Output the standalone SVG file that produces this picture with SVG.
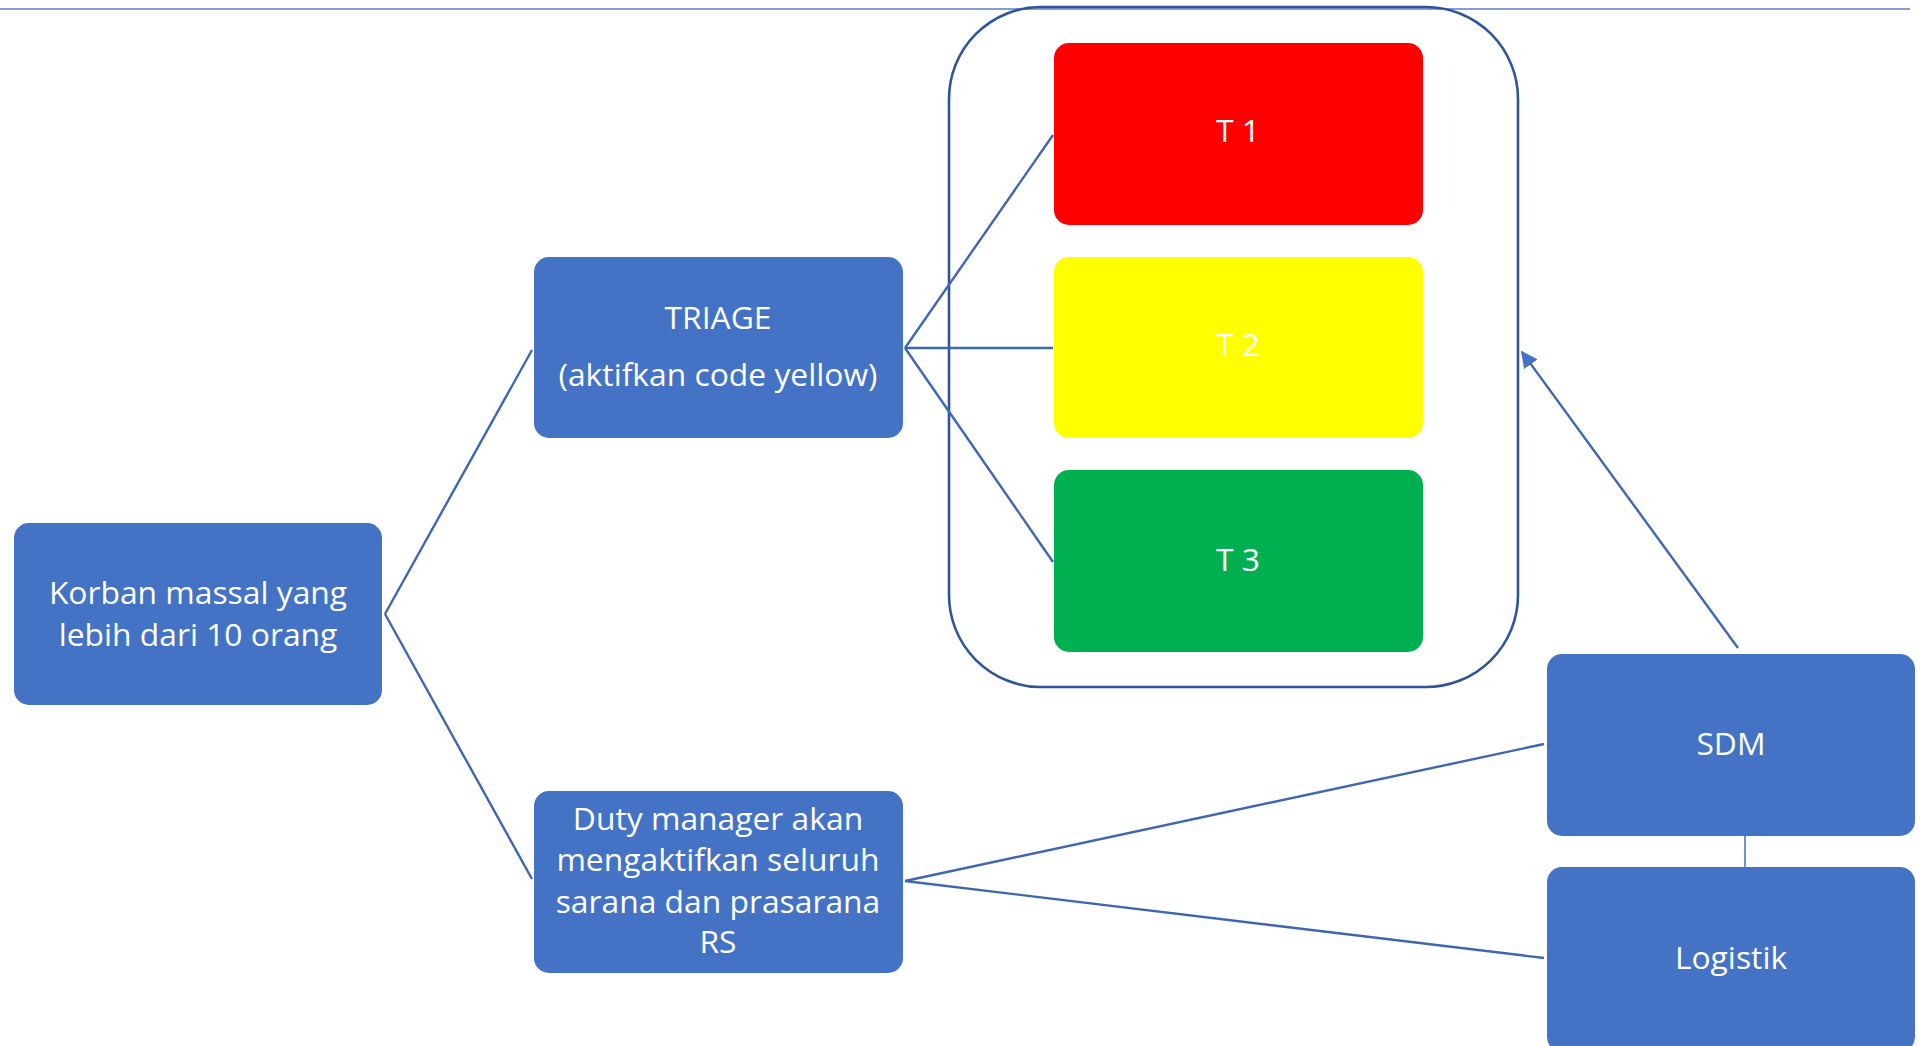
<svg xmlns="http://www.w3.org/2000/svg" width="1926" height="1046" viewBox="0 0 1926 1046">
<defs>
<style>
.box{fill:#4472C4;}
.t{font-family:"Open Sans","Liberation Sans",sans-serif;font-size:31.8px;fill:#FFFFFF;text-anchor:middle;}
.c{stroke:#3F67B0;stroke-width:2.4;fill:none;}
</style>
<marker id="ah" viewBox="0 0 10 10" refX="9" refY="5" markerWidth="7" markerHeight="7" orient="auto" markerUnits="strokeWidth">
<path d="M0,0 L10,5 L0,10 z" fill="#4472C4"/>
</marker>
</defs>
<rect width="1926" height="1046" fill="#FFFFFF"/>
<line x1="0" y1="9" x2="1910" y2="9" stroke="#5B7FC4" stroke-width="1.6"/>
<g id="container">
<rect x="949" y="7" width="569" height="680" rx="92" ry="92" fill="none" stroke="#2F5597" stroke-width="2.6"/>
</g>
<g id="connectors">
<line class="c" x1="385" y1="614" x2="532" y2="350"/>
<line class="c" x1="385" y1="614" x2="532" y2="879"/>
<line class="c" x1="905" y1="348" x2="1053" y2="135"/>
<line class="c" x1="905" y1="348" x2="1053" y2="348"/>
<line class="c" x1="905" y1="348" x2="1053" y2="562"/>
<line class="c" x1="905" y1="881" x2="1544" y2="744"/>
<line class="c" x1="905" y1="881" x2="1544" y2="958"/>
<line x1="1745" y1="836" x2="1745" y2="867" stroke="#4472C4" stroke-width="1.5"/>
<line class="c" x1="1738" y1="648" x2="1522" y2="352" stroke="#4472C4" marker-end="url(#ah)"/>
</g>
<g id="korban">
<rect class="box" x="14" y="523" width="368" height="182" rx="15"/>
<text class="t" x="198" y="604">Korban massal yang</text>
<text class="t" x="198" y="646">lebih dari 10 orang</text>
</g>
<g id="triage">
<rect class="box" x="534" y="257" width="369" height="181" rx="15"/>
<text class="t" x="718" y="329">TRIAGE</text>
<text class="t" x="718" y="386">(aktifkan code yellow)</text>
</g>
<g id="duty">
<rect class="box" x="534" y="791" width="369" height="182" rx="15"/>
<text class="t" x="718" y="830">Duty manager akan</text>
<text class="t" x="718" y="871">mengaktifkan seluruh</text>
<text class="t" x="718" y="913">sarana dan prasarana</text>
<text class="t" x="718" y="953">RS</text>
</g>
<g id="t1">
<rect x="1054" y="43" width="369" height="182" rx="15" fill="#FF0000"/>
<text class="t" x="1238" y="142">T 1</text>
</g>
<g id="t2">
<rect x="1054" y="257" width="369" height="181" rx="15" fill="#FFFF00"/>
<text class="t" x="1238" y="356">T 2</text>
</g>
<g id="t3">
<rect x="1054" y="470" width="369" height="182" rx="15" fill="#00B050"/>
<text class="t" x="1238" y="571">T 3</text>
</g>
<g id="sdm">
<rect class="box" x="1547" y="654" width="368" height="182" rx="15"/>
<text class="t" x="1731" y="755">SDM</text>
</g>
<g id="logistik">
<rect class="box" x="1547" y="867" width="368" height="185" rx="15"/>
<text class="t" x="1731" y="969">Logistik</text>
</g>
</svg>
